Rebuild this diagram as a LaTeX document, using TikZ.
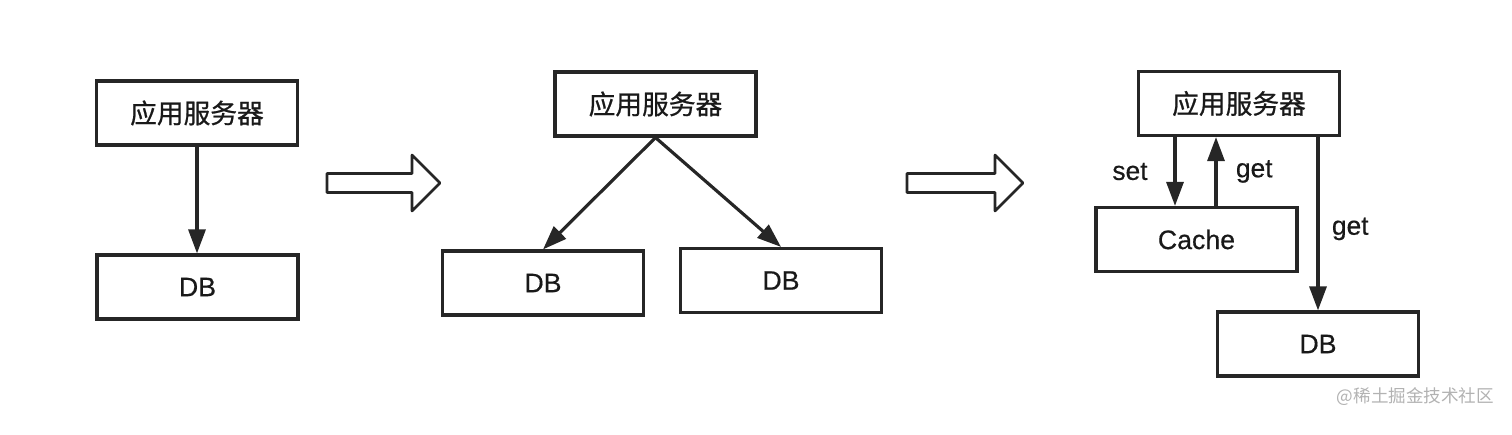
\documentclass[tikz,border=0pt]{standalone}
\usepackage{fontspec}
\setmainfont{Liberation Sans}[FakeBold=0.5]
\newfontfamily\cjk{Noto Sans CJK SC}[FakeBold=0.8]
\newfontfamily\cjklight{Noto Sans CJK SC}
\usetikzlibrary{arrows.meta}

\begin{document}
\begin{tikzpicture}[line width=1.8pt,>={Triangle[length=4.8mm,width=3.4mm]},
  box/.style={draw=black!85,minimum width=4.02cm,minimum height=1.28cm,
    font=\fontsize{15.2}{18}\selectfont,text=black!90},
  lbl/.style={font=\fontsize{15}{18}\selectfont,text=black!90}]
  \useasboundingbox (0,0) rectangle (30.24,8.68);
  % one server, one DB
  \node[box] (srv1) at (3.94,6.42) {\cjk 应用服务器};
  \node[box] (db1) at (3.95,2.94) {DB};
  \draw[->,black!85] (srv1.south) -- (srv1.south |- db1.north);
  \draw[black!85,line width=1.5pt,line join=round] (6.54,4.83) -- (8.24,4.83) -- (8.24,4.46) -- (8.80,5.02)
    -- (8.24,5.58) -- (8.24,5.21) -- (6.54,5.21) -- cycle;
  % two DBs
  \node[box] (srv2) at (13.11,6.60) {\cjk 应用服务器};
  \node[box] (db2a) at (10.86,3.02) {DB};
  \node[box] (db2b) at (15.62,3.07) {DB};
  \draw[->,black!85] (srv2.south) -- (db2a.north);
  \draw[->,black!85] (srv2.south) -- (db2b.north);
  \draw[black!85,line width=1.5pt,line join=round] (18.14,4.83) -- (19.90,4.83) -- (19.90,4.46) -- (20.46,5.02)
    -- (19.90,5.58) -- (19.90,5.21) -- (18.14,5.21) -- cycle;
  % cache in front of the DB
  \node[box] (srv3) at (24.78,6.61) {\cjk 应用服务器};
  \node[box] (cache) at (23.93,3.89) {Cache};
  \node[box] (db3) at (26.36,1.80) {DB};
  \coordinate (setend) at ([xshift=-4.3mm]cache.north);
  \coordinate (getend) at ([xshift=3.9mm]cache.north);
  \draw[->,black!85] (setend |- srv3.south) -- node[left=4mm,lbl]{set} (setend);
  \draw[->,black!85] (getend) -- node[right=2.5mm,lbl]{get} (getend |- srv3.south);
  \draw[->,black!85] (srv3.south -| db3.north) -- node[pos=0.53,right=1.3mm,lbl]{get} (db3.north);
  \node[text=black!30,font=\cjklight\fontsize{10}{12}\selectfont] (mark) at (28.31,0.74) {@稀土掘金技术社区};
\end{tikzpicture}
\end{document}
